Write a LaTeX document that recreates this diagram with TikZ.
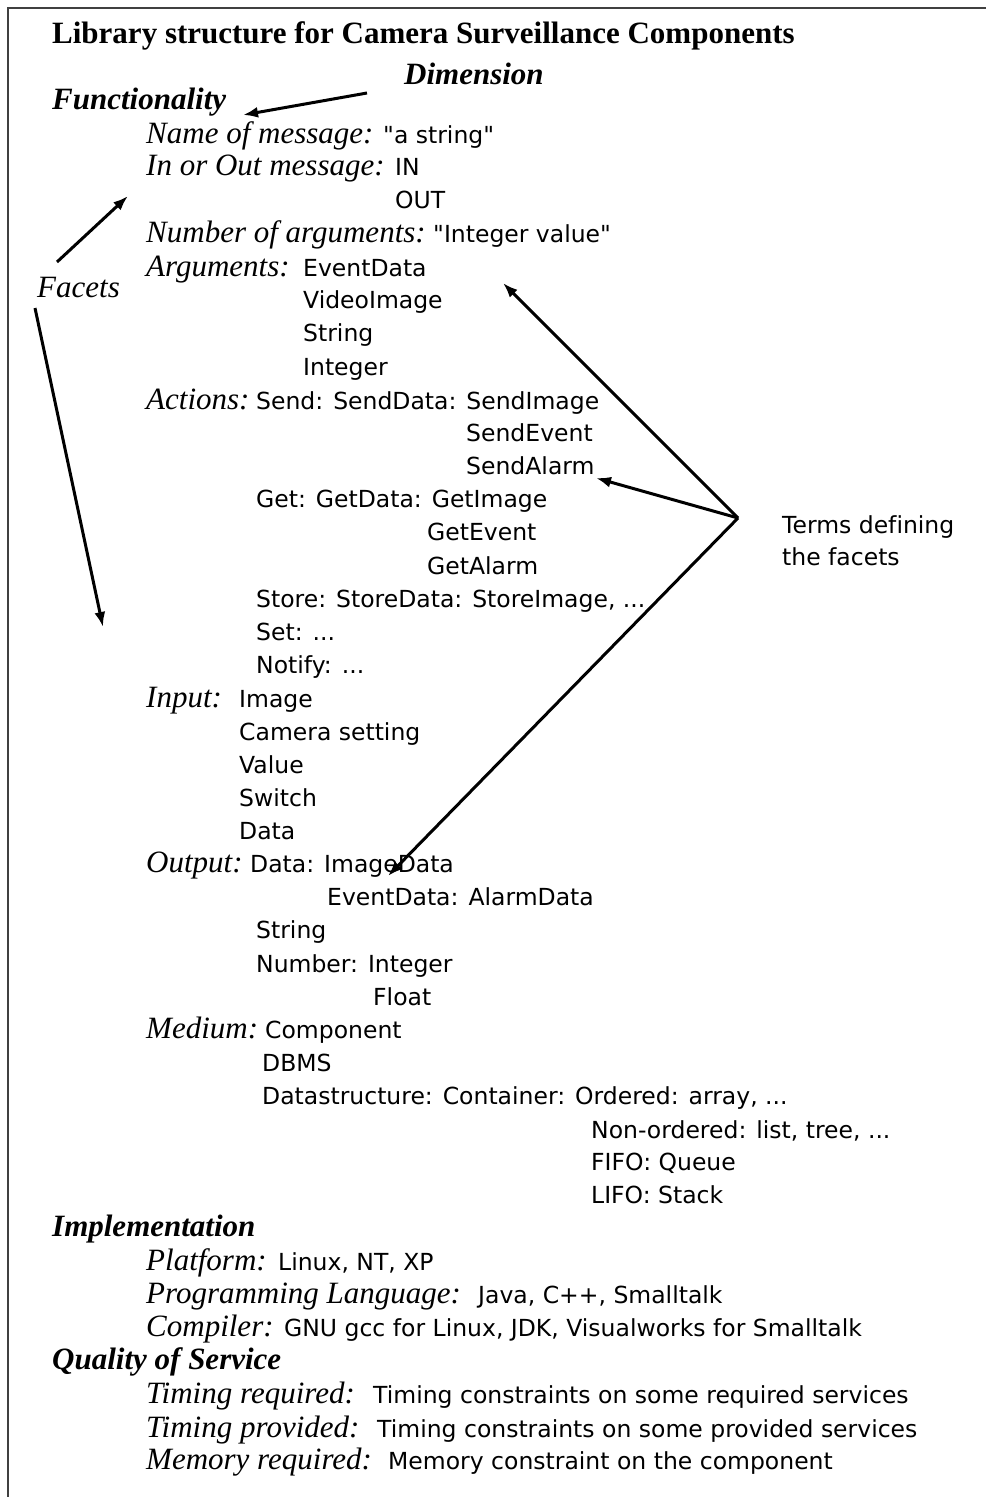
\documentclass[tikz,border=0pt]{standalone}
\usepackage{fontspec}
\setmainfont{Liberation Serif}
\setsansfont[Ligatures=NoCommon]{DejaVu Sans}
\usetikzlibrary{arrows.meta}
\tikzset{
  heading/.style={anchor=base west, inner sep=0pt, font=\fontsize{31}{36}\selectfont\bfseries\itshape},
  facet/.style={anchor=base west, inner sep=0pt, font=\fontsize{31}{36}\selectfont\itshape},
  term/.style={anchor=base west, inner sep=0pt, font=\fontsize{23.5}{28}\selectfont\sffamily},
  pointer/.style={line width=3pt, -{Latex[length=15pt,width=11pt]}},
  frame/.style={line width=2.5pt, black!75},
}

\begin{document}
\begin{tikzpicture}[x=1pt,y=-1pt]
\useasboundingbox (0,0) rectangle (986,1497);
\draw[frame] (8,1497) -- (8,8) -- (986,8);
\node[anchor=base west, inner sep=0pt, font=\fontsize{31}{36}\selectfont\bfseries] (title) at (52,43) {Library structure for Camera Surveillance Components};
\node[heading] (dimension) at (404,84) {Dimension};
%
% Functionality
\node[heading] (functionality) at (52,109) {Functionality};
\node[facet] (fname) at (146,143) {Name of message:};
\node[term] (vname) at (383,143) {\textquotedbl a string\textquotedbl};
\node[facet] (finout) at (146,175) {In or Out message:};
\node[term] (vin) at (395,175) {IN};
\node[term] (vout) at (395,208) {OUT};
\node[facet] (fnum) at (146,242) {Number of arguments:};
\node[term] (vnum) at (433,242) {\textquotedbl Integer value\textquotedbl};
\node[facet] (fargs) at (146,276) {Arguments:};
\node[term] (veventdata) at (303,276) {EventData};
\node[term] (vvideo) at (303,308) {VideoImage};
\node[term] (vstring) at (303,341) {String};
\node[term] (vinteger) at (303,375) {Integer};
\node[facet] (factions) at (146,409) {Actions:};
\node[term] (vsend) at (256,409) {Send: SendData: SendImage};
\node[term] (vsendevent) at (466,441) {SendEvent};
\node[term] (vsendalarm) at (466,474) {SendAlarm};
\node[term] (vget) at (256,507) {Get: GetData: GetImage};
\node[term] (vgetevent) at (427,540) {GetEvent};
\node[term] (vgetalarm) at (427,574) {GetAlarm};
\node[term] (vstore) at (256,607) {Store: StoreData: StoreImage, ...};
\node[term] (vset) at (256,640) {Set: ...};
\node[term] (vnotify) at (256,673) {Notify: ...};
\node[facet] (finput) at (146,707) {Input:};
\node[term] (vimage) at (239,707) {Image};
\node[term] (vcamera) at (239,740) {Camera setting};
\node[term] (vvalue) at (239,773) {Value};
\node[term] (vswitch) at (239,806) {Switch};
\node[term] (vdata) at (239,839) {Data};
\node[facet] (foutput) at (146,872) {Output:};
\node[term] (vimagedata) at (250,872) {Data: ImageData};
\node[term] (valarmdata) at (327,905) {EventData: AlarmData};
\node[term] (vostring) at (256,938) {String};
\node[term] (vonumber) at (256,972) {Number: Integer};
\node[term] (vofloat) at (373,1005) {Float};
\node[facet] (fmedium) at (146,1038) {Medium:};
\node[term] (vcomponent) at (265,1038) {Component};
\node[term] (vdbms) at (262,1071) {DBMS};
\node[term] (vdatastr) at (262,1104) {Datastructure: Container: Ordered: array, ...};
\node[term] (vnonord) at (591,1138) {Non-ordered: list, tree, ...};
\node[term] (vfifo) at (591,1170) {FIFO: Queue};
\node[term] (vlifo) at (591,1203) {LIFO: Stack};
%
% Implementation
\node[heading] (implementation) at (52,1236) {Implementation};
\node[facet] (fplatform) at (146,1270) {Platform:};
\node[term] (vplatform) at (278,1270) {Linux, NT, XP};
\node[facet] (flanguage) at (146,1303) {Programming Language:};
\node[term] (vlanguage) at (478,1303) {Java, C++, Smalltalk};
\node[facet] (fcompiler) at (146,1336) {Compiler:};
\node[term] (vcompiler) at (284,1336) {GNU gcc for Linux, JDK, Visualworks for Smalltalk};
%
% Quality of Service
\node[heading] (quality) at (52,1369) {Quality of Service};
\node[facet] (ftreq) at (146,1403) {Timing required:};
\node[term] (vtreq) at (373,1403) {Timing constraints on some required services};
\node[facet] (ftprov) at (146,1437) {Timing provided:};
\node[term] (vtprov) at (377,1437) {Timing constraints on some provided services};
\node[facet] (fmem) at (146,1469) {Memory required:};
\node[term] (vmem) at (388,1469) {Memory constraint on the component};
%
% annotations
\node[facet] (facets) at (37,297) {Facets};
\node[term] (terms) at (782,533) {Terms defining};
\node[term] (terms2) at (782,565) {the facets};
\coordinate (dimtail) at (367,93);
\coordinate (dimtip) at (243,115);
\coordinate (facetsup) at (57,262);
\coordinate (facetsuptip) at (128,196);
\coordinate (facetsdown) at (35,308);
\coordinate (facetsdowntip) at (103,627);
\coordinate (apex) at (738,518);
\coordinate (argtip) at (503,283);
\coordinate (alarmtip) at (596,478);
\coordinate (outtip) at (388,876);
\draw[pointer] (dimtail) -- (dimtip);
\draw[pointer] (facetsup) -- (facetsuptip);
\draw[pointer] (facetsdown) -- (facetsdowntip);
\draw[pointer] (apex) -- (argtip);
\draw[pointer] (apex) -- (alarmtip);
\draw[pointer] (apex) -- (outtip);
\end{tikzpicture}
\end{document}
